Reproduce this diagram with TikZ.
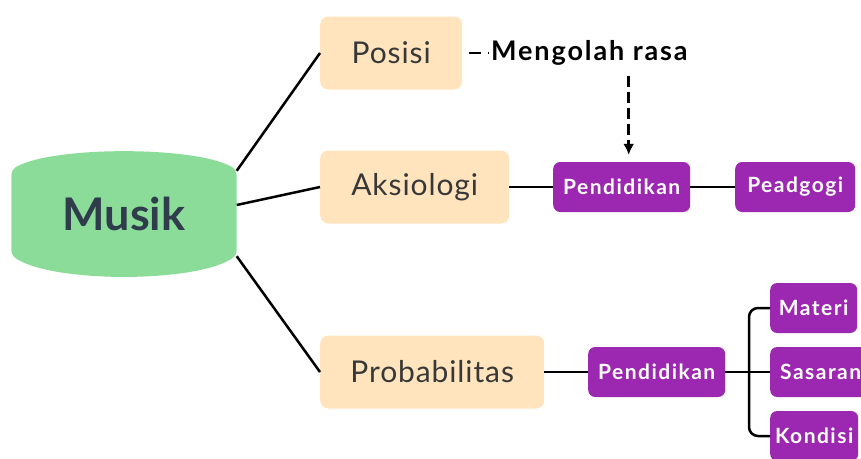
\documentclass[tikz,border=0pt]{standalone}
\usepackage{fontspec}
\setmainfont{Lato}
\usepackage{xcolor}
\usetikzlibrary{arrows.meta,positioning,backgrounds}
\definecolor{hijau}{HTML}{8CDC99}
\definecolor{krem}{HTML}{FFE4BD}
\definecolor{ungu}{HTML}{9C27B0}
\definecolor{tinta}{HTML}{2F3C4B}
\tikzset{font={\fontsize{30pt}{34}\selectfont\addfontfeature{LetterSpace=3}}}
\tikzset{
  topik/.style={fill=krem, rounded corners=8pt, minimum height=73pt, minimum width=#1, inner xsep=0pt, anchor=west, text=black!78},
  cabang/.style={fill=ungu, rounded corners=7pt, minimum height=50pt, minimum width=#1, inner xsep=0pt, anchor=west, text=white, font={\fontsize{21pt}{24}\selectfont\bfseries\addfontfeature{LetterSpace=7}}},
  garis/.style={line width=2.5pt},
}

\begin{document}
\begin{tikzpicture}[x=1pt,y=-1pt]
\useasboundingbox (0,0) rectangle (861,458);
\node[font={\fontsize{45pt}{48}\selectfont\bfseries}, text=tinta, minimum width=225pt, minimum height=124pt] (musik) at (124,214) {Musik};
\begin{scope}[on background layer]
\fill[hijau, rounded corners=5pt] ([yshift=-18pt]musik.north west) .. controls ([xshift=40pt,yshift=6pt]musik.north west) and ([xshift=-40pt,yshift=6pt]musik.north east) .. ([yshift=-18pt]musik.north east) -- ([yshift=21pt]musik.south east) .. controls ([xshift=-40pt,yshift=-7pt]musik.south east) and ([xshift=40pt,yshift=-7pt]musik.south west) .. ([yshift=21pt]musik.south west) -- cycle;
\end{scope}

\node[topik=142pt] (posisi) at (320,53) {Posisi};
\node[topik=189pt] (aksiologi) at (320,187) {Aksiologi};
\node[topik=224pt] (prob) at (320,372) {Probabilitas};
\node[anchor=west, inner sep=2pt, font={\fontsize{27pt}{30}\selectfont\bfseries\addfontfeature{LetterSpace=7}}] (mengolah) at (489,53) {Mengolah rasa};

\node[cabang=137pt] (pend1) at (553,187) {Pendidikan};
\node[cabang=120pt] (peadgogi) at (735,187) {Peadgogi};
\node[cabang=137pt] (pend2) at (588,372) {Pendidikan};
\node[cabang=87pt] (materi) at (770,308) {Materi};
\node[cabang=100pt, anchor=west, inner xsep=10pt] (sasaran) at (770,372) {Sasaran};
\node[cabang=88pt] (kondisi) at (770,436) {Kondisi};
\coordinate (simpul) at (749,372);

\draw[garis] ([yshift=-19pt]musik.north east) -- (posisi.west);
\draw[garis] ([yshift=9pt]musik.east) -- (aksiologi.west);
\draw[garis] ([yshift=20pt]musik.south east) -- (prob.west);
\draw[garis] (aksiologi.east) -- (pend1.west);
\draw[garis] (pend1.east) -- (peadgogi.west);
\draw[garis] (prob.east) -- (pend2.west);
\draw[garis] (pend2.east) -- (sasaran.west);
\draw[garis, rounded corners=9pt] (materi.west) -| (simpul) |- (kondisi.west);
\draw[garis, dash pattern=on 12pt off 7pt, shorten <=7pt] (posisi.east) -- (mengolah.west);
\draw[garis, dash pattern=on 11pt off 5pt, -{Latex[length=11pt,width=11pt]}, shorten <=8pt, shorten >=7pt] ([xshift=7pt]pend1.north |- mengolah.south) -- ([xshift=7pt]pend1.north);
\end{tikzpicture}
\end{document}
